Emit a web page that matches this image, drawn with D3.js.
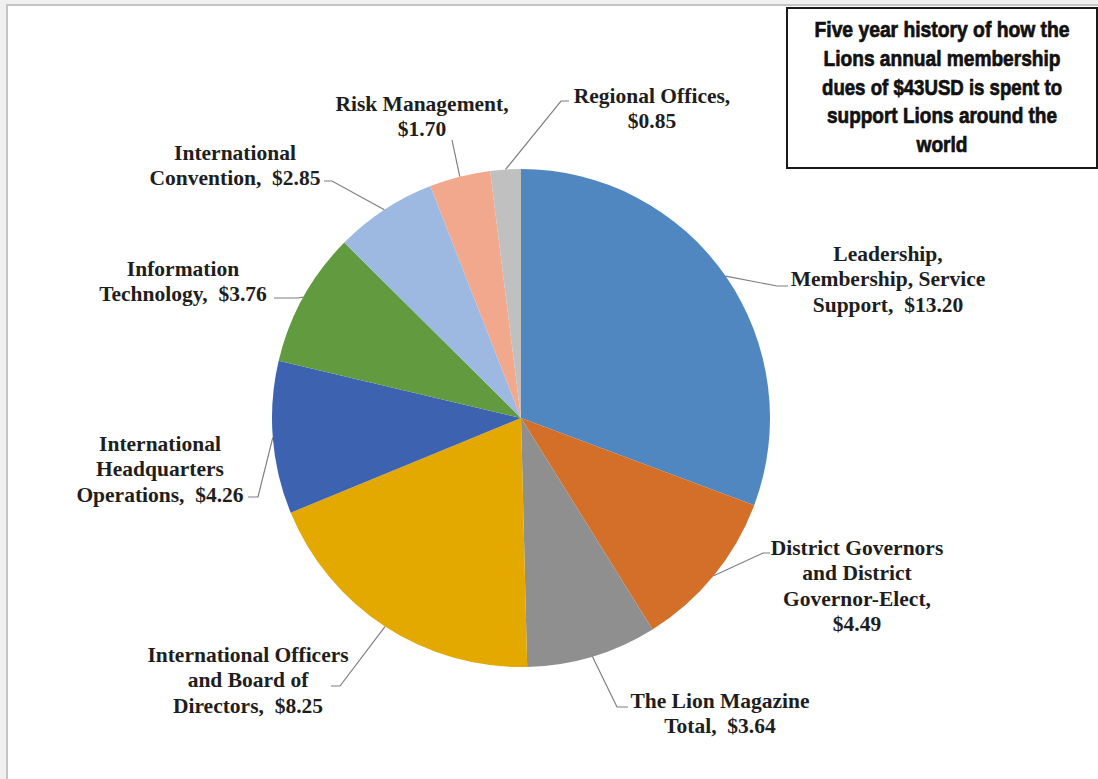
<!DOCTYPE html>
<html>
<head>
<meta charset="utf-8">
<script src="https://cdn.jsdelivr.net/npm/d3@7"></script>
<style>
  html, body { margin: 0; padding: 0; background: #f0f0f0; }
  svg { display: block; }
  .lbl { font-family: "Liberation Serif", "Times New Roman", serif; font-weight: bold; font-size: 21.5px; fill: #1e1e1e; white-space: pre; }
  .ttl { font-family: "Liberation Sans", Arial, sans-serif; font-weight: bold; font-size: 19px; fill: #111; stroke: #111; stroke-width: 0.6px; }
</style>
</head>
<body>
<div id="chart-area"></div>
<script>
// Data
var categories = [
  "Leadership, Membership, Service Support",
  "District Governors and District Governor-Elect",
  "The Lion Magazine Total",
  "International Officers and Board of Directors",
  "International Headquarters Operations",
  "Information Technology",
  "International Convention",
  "Risk Management",
  "Regional Offices"
];
var values = [13.20, 4.49, 3.64, 8.25, 4.26, 3.76, 2.85, 1.70, 0.85];

// label text, {v} gets the value
var labelLines = [
  ["Leadership,", "Membership, Service", "Support,  {v}"],
  ["District Governors", "and District", "Governor-Elect,", "{v}"],
  ["The Lion Magazine", "Total,  {v}"],
  ["International Officers", "and Board of", "Directors,  {v}"],
  ["International", "Headquarters", "Operations,  {v}"],
  ["Information", "Technology,  {v}"],
  ["International", "Convention,  {v}"],
  ["Risk Management,", "{v}"],
  ["Regional Offices,", "{v}"]
];

var titleLines = [
  "Five year history of how the",
  "Lions annual membership",
  "dues of $43USD is spent to",
  "support Lions around the",
  "world"
];
// squeezed to the condensed look of the original
var titleWidths = [255, 237, 240, 230, 51];

var palette = ["#5087c1", "#d46f2a", "#8f8f8f", "#e3a900", "#3d62b0", "#629a40", "#9db9e1", "#f1a88c", "#c0c0c0"];

// label placement: centre x, first line y, elbow and end of leader line
var labelLayout = [
  { cx: 888, y: 253, elbow: [777, 286], end: [788, 286] },
  { cx: 857, y: 547, elbow: [763, 553], end: [770, 553] },
  { cx: 720, y: 700, elbow: [617, 707], end: [628, 707] },
  { cx: 248, y: 654, elbow: [340, 686], end: [331, 686] },
  { cx: 160, y: 443, elbow: [258, 497], end: [248, 497] },
  { cx: 183, y: 268, elbow: [298, 298], end: [274, 298] },
  { cx: 235, y: 152, elbow: [332, 181], end: [324, 181] },
  { cx: 422, y: 103, elbow: [452, 140], end: [452, 140] },
  { cx: 652, y: 95, elbow: [561, 101], end: [569, 101] }
];

var width = 1098, height = 779;
var center = { x: 521, y: 418 };
var radius = 249;
var lineHeight = 25.5;

var svg = d3.select("#chart-area")
  .append("svg")
  .attr("width", width)
  .attr("height", height);

// white chart area with light frame
svg.append("rect")
  .attr("x", 7).attr("y", 5)
  .attr("width", width).attr("height", height)
  .attr("fill", "#fff")
  .attr("stroke", "#c4c4c4")
  .attr("stroke-width", 2);

var color = d3.scaleOrdinal().domain(categories).range(palette);

var pie = d3.pie().sort(null).value(d => d.value);
var data = categories.map((c, i) => ({ name: c, value: values[i], idx: i }));
var arcs = pie(data);

var arc = d3.arc().innerRadius(0).outerRadius(radius);
var edgeArc = d3.arc().innerRadius(radius).outerRadius(radius);

var g = svg.append("g")
  .attr("transform", "translate(" + center.x + "," + center.y + ")");

g.selectAll("path.slice")
  .data(arcs).enter()
  .append("path")
  .attr("class", "slice")
  .attr("d", arc)
  .attr("fill", d => color(d.data.name));

// leader lines
var fmt = d3.format(".2f");
svg.selectAll("path.leader")
  .data(arcs).enter()
  .append("path")
  .attr("class", "leader")
  .attr("d", d => {
    var p = edgeArc.centroid(d);
    var L = labelLayout[d.data.idx];
    return "M" + (p[0] + center.x) + "," + (p[1] + center.y) +
      "L" + L.elbow[0] + "," + L.elbow[1] +
      "L" + L.end[0] + "," + L.end[1];
  })
  .attr("fill", "none")
  .attr("stroke", "#7f7f7f")
  .attr("stroke-width", 1.2);

// labels
var labels = svg.selectAll("text.lbl")
  .data(arcs).enter()
  .append("text")
  .attr("class", "lbl")
  .attr("text-anchor", "middle");

labels.each(function (d) {
  var L = labelLayout[d.data.idx];
  var t = d3.select(this);
  labelLines[d.data.idx].forEach((s, k) => {
    t.append("tspan")
      .attr("x", L.cx)
      .attr("y", L.y + k * lineHeight)
      .attr("dy", "0.35em")
      .text(s.replace("{v}", "$" + fmt(d.data.value)));
  });
});

// title box
svg.append("rect")
  .attr("x", 787).attr("y", 8)
  .attr("width", 310).attr("height", 160)
  .attr("fill", "#fff")
  .attr("stroke", "#1a1a1a")
  .attr("stroke-width", 2);

svg.selectAll("text.ttl")
  .data(titleLines).enter()
  .append("text")
  .attr("class", "ttl")
  .attr("text-anchor", "middle")
  .attr("transform", (d, i) => "translate(942," + (29 + i * 28.8) + ") scale(1,1.2)")
  .attr("dy", "0.35em")
  .attr("textLength", (d, i) => titleWidths[i])
  .attr("lengthAdjust", "spacingAndGlyphs")
  .text(d => d);
</script>
</body>
</html>
